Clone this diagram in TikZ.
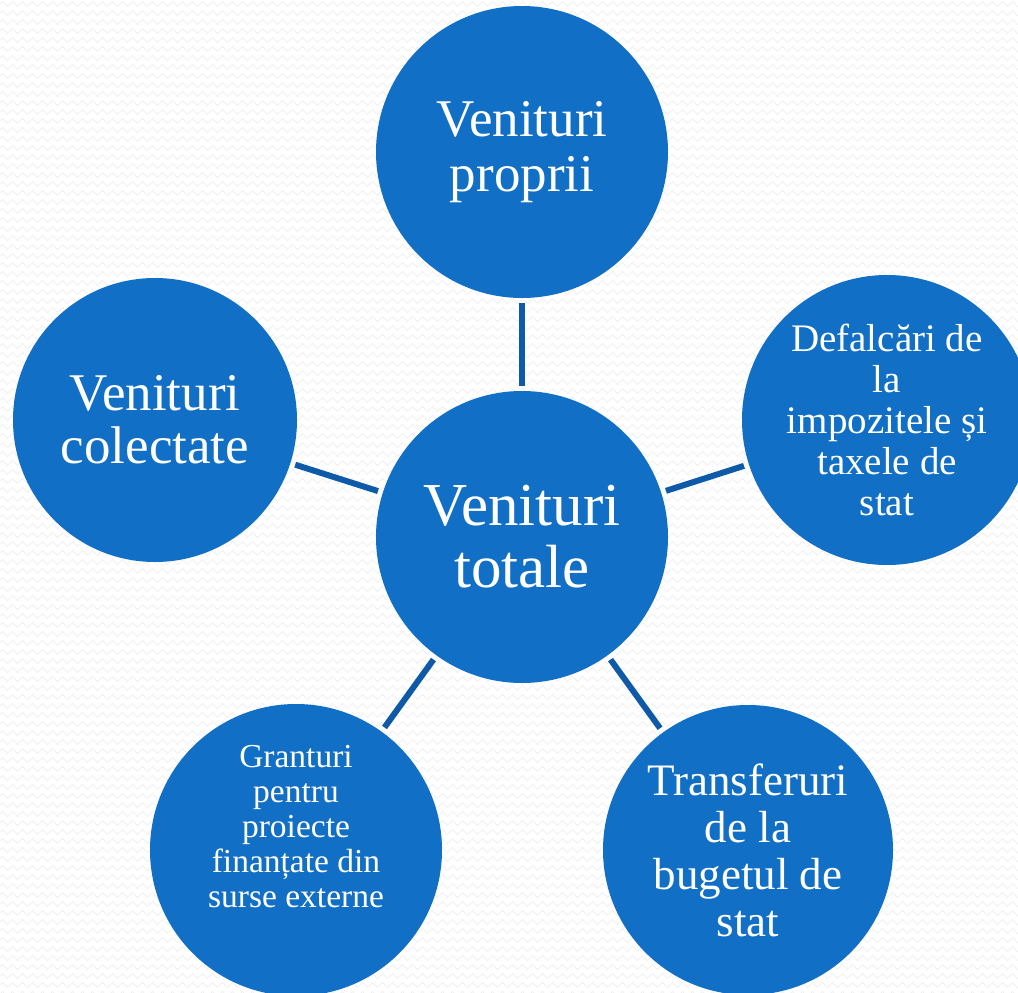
\documentclass[tikz,border=0pt]{standalone}
\usepackage{fontspec}
\setmainfont{Liberation Serif}
\usetikzlibrary{decorations.pathmorphing}
\definecolor{circfill}{HTML}{116FC6}
\definecolor{connline}{HTML}{0F5AA8}
\definecolor{zig}{HTML}{F1F1F1}
\tikzset{
  bub/.style={circle, fill=circfill, draw=none, inner sep=0pt, minimum size=292pt, text=white, align=center},
  bubtext/.style={text=white, align=center, inner sep=0pt},
  conn/.style={draw=connline, line width=6pt, shorten <=5pt, shorten >=5pt},
  zz/.style={draw=zig, line width=1pt, decorate, decoration={zigzag, segment length=10pt, amplitude=2.5pt}}
}
\begin{document}
\begin{tikzpicture}[x=1pt, y=-1pt]
\useasboundingbox (0,0) rectangle (1018,993);
\fill[white] (0,0) rectangle (1018,993);
\foreach \yy in {4,13,...,1000} { \draw[zz] (-10,\yy) -- (1030,\yy); }

\node[bub, font=\fontsize{61}{62}\selectfont] (c) at (522,537) {Venituri\\totale};
\node[bub, font=\fontsize{53}{55}\selectfont] (top) at (522,152) {Venituri\\proprii};
\node[bub, minimum size=284pt, font=\fontsize{53}{53}\selectfont] (left) at (155,420) {Venituri\\colectate};
\node[bub, minimum size=290pt, font=\fontsize{39}{41}\selectfont] (right) at (887,420) {Defalcări de\\la\\impozitele și\\taxele de\\stat};
\node[bub] (bl) at (296,850) {};
\node[bubtext, font=\fontsize{33.5}{35}\selectfont] (bltext) at (296,827) {Granturi\\pentru\\proiecte\\finanțate din\\surse externe};
\node[bub, minimum size=290pt, font=\fontsize{45}{47}\selectfont] (br) at (748,850) {Transferuri\\de la\\bugetul de\\stat};

\draw[conn] (c) -- (top);
\draw[conn] (c) -- (left);
\draw[conn] (c) -- (right);
\draw[conn] (c) -- (bl);
\draw[conn] (c) -- (br);
\end{tikzpicture}
\end{document}
